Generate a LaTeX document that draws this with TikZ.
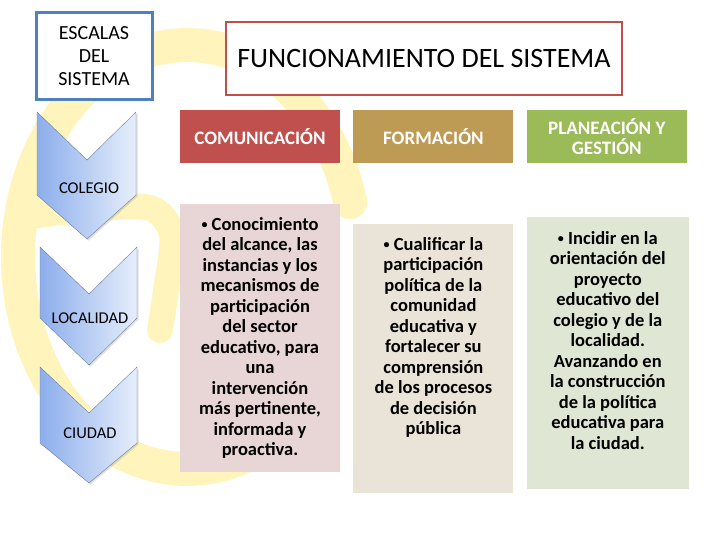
\documentclass[tikz,border=0pt]{standalone}
\usepackage{fontspec}
\setmainfont{Carlito}
\usepackage{tikz}
\usetikzlibrary{positioning,shadows}
\usepackage{xcolor}
\definecolor{scblue}{RGB}{79,129,189}
\definecolor{scred}{RGB}{192,80,77}
\definecolor{sctan}{RGB}{190,155,84}
\definecolor{scgreen}{RGB}{155,187,89}
\definecolor{scpink}{RGB}{232,214,214}
\definecolor{scbeige}{RGB}{234,228,216}
\definecolor{scsage}{RGB}{224,230,212}
\definecolor{scyellow}{RGB}{255,245,188}
\definecolor{scchevleft}{RGB}{140,174,236}
\definecolor{scchevright}{RGB}{230,238,251}
\definecolor{scchevline}{RGB}{110,128,158}
\newcommand{\scbullet}{{\fontsize{12}{12}\selectfont\raisebox{1.5pt}{•}}}
\tikzstyle{scales} = [rectangle, draw=scblue, line width=3pt, minimum width=116pt, minimum height=87pt, align=center, font=\fontsize{20}{23}\selectfont]
\tikzstyle{titlebox} = [rectangle, draw=scred, line width=2.5pt, minimum width=396pt, minimum height=73pt, font=\fontsize{28}{30}\selectfont]
\tikzstyle{header} = [rectangle, minimum width=160pt, minimum height=53pt, text=white, align=center, font=\bfseries\fontsize{19}{20}\selectfont]
\tikzstyle{content} = [rectangle, minimum width=160pt, inner sep=0pt]
\tikzstyle{contenttext} = [align=center, inner sep=0pt, font=\bfseries\fontsize{18.5}{20.5}\selectfont]
\tikzstyle{chevron} = [draw=scchevline, left color=scchevleft, right color=scchevright, drop shadow={opacity=0.25, shadow xshift=1.5pt, shadow yshift=-1.5pt}]
\tikzstyle{chevlabel} = [font=\fontsize{16.5}{18}\selectfont]
\tikzstyle{watermark} = [draw=scyellow, line cap=round]

\begin{document}
\begin{tikzpicture}[x=1pt, y=-1pt]
\useasboundingbox (0,0) rectangle (720,540);

% Background logo
\draw[watermark, line width=34pt] plot[smooth, domain=15:292, samples=80] ({187+169*cos(\x)}, {257-212*sin(\x)});
\draw[watermark, line width=26pt] plot[smooth] coordinates {(24,217) (90,209) (150,208) (172,235) (166,290) (160,330)};

% Titles
\node (scales) [scales, fill=white] at (94,56.5) {ESCALAS\\DEL\\SISTEMA};
\node (title) [titlebox, fill=white] at (424,58.5) {FUNCIONAMIENTO DEL SISTEMA};

% Scale chevrons
\draw[chevron] (37,112) -- (87,160) -- (136,112) -- (136,195) -- (87,239) -- (37,195) -- cycle;
\draw[chevron] (40,247) -- (89,294) -- (137,247) -- (137,318) -- (89,365) -- (40,318) -- cycle;
\draw[chevron] (40,367) -- (89,413) -- (137,367) -- (137,443) -- (89,483) -- (40,443) -- cycle;
\node (colegio) [chevlabel] at (89,188) {COLEGIO};
\node (localidad) [chevlabel] at (90,318) {LOCALIDAD};
\node (ciudad) [chevlabel] at (90,433) {CIUDAD};

% Column headers
\node (comHead) [header, fill=scred] at (260,136.5) {COMUNICACIÓN};
\node (forHead) [header, fill=sctan, right=13pt of comHead] {FORMACIÓN};
\node (plaHead) [header, fill=scgreen, right=13pt of forHead] {PLANEACIÓN Y\\GESTIÓN};

% Column contents
\node (comBox) [content, fill=scpink, minimum height=268pt, below=41pt of comHead] {};
\node (forBox) [content, fill=scbeige, minimum height=269pt, below=61pt of forHead] {};
\node (plaBox) [content, fill=scsage, minimum width=162pt, minimum height=272pt, below=54pt of plaHead.south, xshift=1pt, anchor=north] {};

\node (comText) [contenttext, below=13pt of comBox.north] {\scbullet{} Conocimiento\\del alcance, las\\instancias y los\\mecanismos de\\participación\\del sector\\educativo, para\\una\\intervención\\más pertinente,\\informada y\\proactiva.};
\node (forText) [contenttext, below=13pt of forBox.north] {\scbullet{} Cualificar la\\participación\\política de la\\comunidad\\educativa y\\fortalecer su\\comprensión\\de los procesos\\de decisión\\pública};
\node (plaText) [contenttext, below=14pt of plaBox.north] {\scbullet{} Incidir en la\\orientación del\\proyecto\\educativo del\\colegio y de la\\localidad.\\Avanzando en\\la construcción\\de la política\\educativa para\\la ciudad.};
\end{tikzpicture}
\end{document}
